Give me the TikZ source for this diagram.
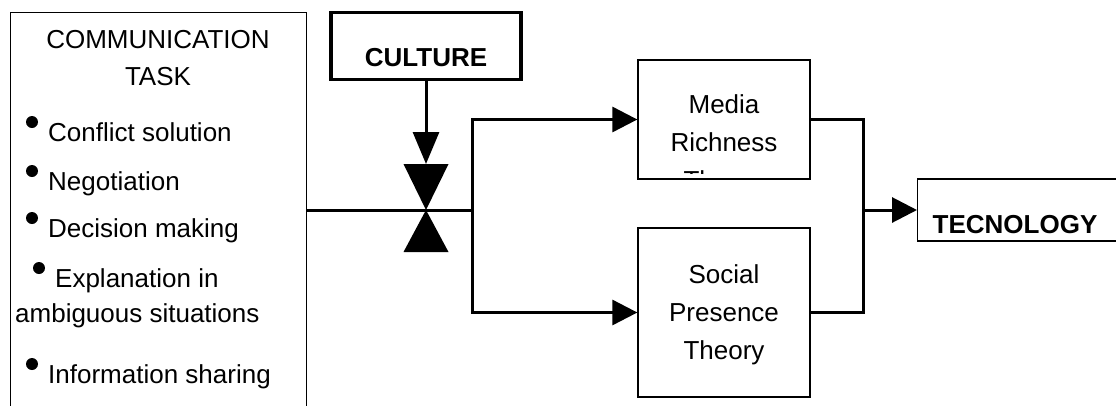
\documentclass[tikz,border=0pt]{standalone}
\usepackage{fontspec}
\setmainfont{Liberation Sans}
\usetikzlibrary{arrows.meta}

\begin{document}
\begin{tikzpicture}[x=1pt, y=-1pt,
    box/.style={draw, line width=1.3pt, inner sep=0pt},
    link/.style={line width=3pt},
    tip/.style={-{Triangle[length=25pt, width=25pt]}},
    lbl/.style={inner sep=0pt, font=\fontsize{26}{35}\selectfont}]
  \useasboundingbox (0,0) rectangle (1116,405);
  \clip (0,0) rectangle (1116,405);

  % task box, open at the bottom of the page
  \node [box, anchor=north west, minimum width=296pt, minimum height=420pt] (task) at (10,12) {};
  \node [lbl, anchor=base] (head1) at (158,48) {COMMUNICATION};
  \node [lbl, anchor=base] (head2) at (158,85) {TASK};
  \foreach \name/\x/\y/\t in {conf/48/141/Conflict solution, nego/48/190/Negotiation,
      deci/48/237/Decision making, expl/55/287/Explanation in, info/48/383/Information sharing} {
    \node [lbl, anchor=base west] (\name) at (\x,\y) {\t};
    \fill ([xshift=-16pt, yshift=19pt]\name.base west) circle (6pt);
  }
  \node [lbl, anchor=base west] (ambi) at (15,322) {ambiguous situations};

  % culture and the moderator
  \node [draw, line width=3.5pt, inner ysep=0pt, minimum width=190pt, text height=54pt,
    text depth=13pt, font=\bfseries\fontsize{26}{35}\selectfont] (culture) at (426,46) {CULTURE};
  \coordinate (mod) at (426,210);
  \coordinate (modtop) at (426,164);
  \draw [link, -{Triangle[length=32pt, width=26pt]}] (culture) -- (modtop);
  \fill (mod) -- ++(-22.5,-46) -- ++(45,0) -- cycle;
  \fill (mod) -- ++(-22.5,42) -- ++(45,0) -- cycle;

  % the two theories
  \node [box, minimum width=172pt, minimum height=119pt] (media) at (724,119.5) {};
  \node [box, minimum width=172pt, minimum height=169pt] (social) at (724,312.5) {};
  \begin{scope}
    \clip ([yshift=6.5pt]media.south west) rectangle (media.north east);
    \foreach \t [count=\i] in {Media, Richness, Theory}
      \node [lbl, anchor=base] (media\i) at (724,{75+38*\i}) {\t};
  \end{scope}
  \foreach \t [count=\i] in {Social, Presence, Theory}
    \node [lbl, anchor=base] (social\i) at (724,{245+38*\i}) {\t};

  % technology
  \node [box, anchor=west, inner xsep=15pt, text width=200pt, text height=54pt, text depth=8pt,
    font=\bfseries\fontsize{26}{35}\selectfont] (tech) at (917,210) {TECNOLOGY};

  % connectors
  \coordinate (split) at (472,210);
  \coordinate (join) at (863,210);
  \draw [link] (task.east |- mod) -- (split);
  \draw [link, tip] (split) |- (media);
  \draw [link, tip] (split) |- (social);
  \draw [link] (media.east) -| (join);
  \draw [link] (social.east) -| (join);
  \draw [link, tip] (join) -- (tech);
\end{tikzpicture}
\end{document}
